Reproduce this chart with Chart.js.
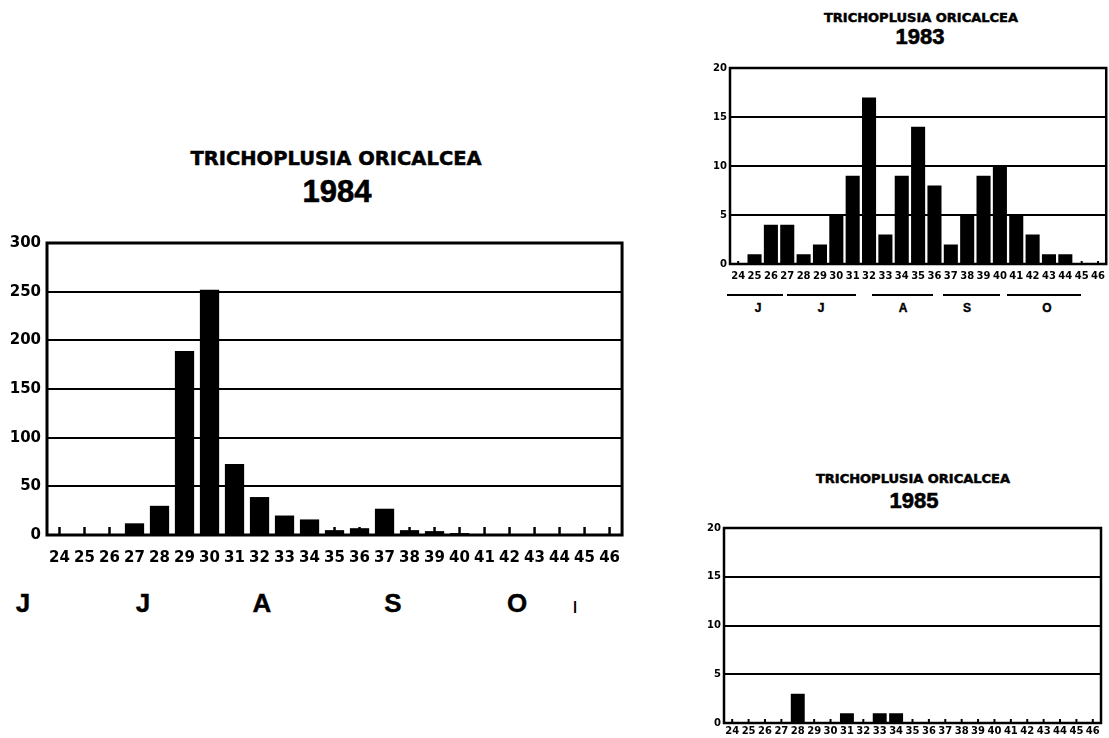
<!DOCTYPE html>
<html>
<head>
<meta charset="utf-8">
<script src="https://cdn.jsdelivr.net/npm/chart.js@4/dist/chart.umd.min.js"></script>
<style>
  html, body { margin: 0; padding: 0; background: #fff; }
  #page { position: relative; width: 1109px; height: 738px; overflow: hidden; background: #fff; }
  canvas { position: absolute; }
  .txt { position: absolute; transform: translate(-50%, -50%); line-height: 1; white-space: nowrap; color: #000; font-weight: bold; }
  .species { font-family: "DejaVu Sans", sans-serif; -webkit-text-stroke: 0.5px #000; }
  .year { font-family: "Liberation Sans", Arial, sans-serif; -webkit-text-stroke: 0.6px #000; }
  .month { font-family: "Liberation Sans", Arial, sans-serif; -webkit-text-stroke: 0.4px #000; }
  .rule { position: absolute; height: 2px; background: #000; }
</style>
</head>
<body>
<div id="page">
  <!-- 1984 (main panel) -->
  <div class="txt species" style="left:336px; top:159px; font-size:19.5px;">TRICHOPLUSIA ORICALCEA</div>
  <div class="txt year" style="left:337px; top:191px; font-size:31px;">1984</div>
  <canvas id="c1984" width="634" height="340" style="left:0px; top:228px;"></canvas>

  <!-- 1983 -->
  <div class="txt species" style="left:921px; top:17px; font-size:13px;">TRICHOPLUSIA ORICALCEA</div>
  <div class="txt year" style="left:920px; top:37px; font-size:22px;">1983</div>
  <canvas id="c1983" width="411" height="230" style="left:700px; top:55px;"></canvas>

  <!-- 1985 -->
  <div class="txt species" style="left:913px; top:478px; font-size:13px;">TRICHOPLUSIA ORICALCEA</div>
  <div class="txt year" style="left:914px; top:501px; font-size:22px;">1985</div>
  <canvas id="c1985" width="410" height="223" style="left:695px; top:515px;"></canvas>
</div>

<script>
// Trap week numbers (x categories)
const weeks = ['24','25','26','27','28','29','30','31','32','33','34','35',
               '36','37','38','39','40','41','42','43','44','45','46'];

// Weekly catches per season
const counts1984 = [0, 0, 0, 12, 30, 189, 252, 73, 39, 20, 16, 5, 7, 27, 5, 4, 2, 1, 1, 0, 1, 0, 0];
const counts1983 = [0, 1, 4, 4, 1, 2, 5, 9, 17, 3, 9, 14, 8, 2, 5, 9, 10, 5, 3, 1, 1, 0, 0];
const counts1985 = [0, 0, 0, 0, 3, 0, 0, 1, 0, 1, 1, 0, 0, 0, 0, 0, 0, 0, 0, 0, 0, 0, 0];

// Month initials under the week axis
const months = ['J', 'J', 'A', 'S', 'O'];

// y-axis ranges
const yMax1984 = 300, yStep1984 = 50;
const yMaxSmall = 20, yStepSmall = 5;

// Frame around the plot plus short base marks at every week
const framePlugin = {
  id: 'frame',
  afterDatasetsDraw(chart, args, opts) {
    const { ctx, chartArea: a } = chart;
    const x = chart.scales.x;
    ctx.save();
    ctx.strokeStyle = '#000';
    ctx.lineWidth = opts.markWidth;
    chart.data.labels.forEach((_, i) => {
      const px = x.getPixelForValue(i);
      ctx.beginPath();
      ctx.moveTo(px, a.bottom);
      ctx.lineTo(px, a.bottom - opts.markHeight);
      ctx.stroke();
    });
    ctx.lineWidth = opts.lineWidth;
    ctx.strokeRect(a.left, a.top, a.width, a.height);
    ctx.restore();
  }
};

function makeChart(id, values, cfg) {
  return new Chart(document.getElementById(id), {
    type: 'bar',
    data: {
      labels: weeks,
      datasets: [{
        data: values,
        backgroundColor: '#000',
        borderWidth: 0,
        barPercentage: cfg.barPct,
        categoryPercentage: 1
      }]
    },
    plugins: [framePlugin],
    options: {
      responsive: false,
      animation: false,
      events: [],
      layout: { padding: cfg.padding },
      plugins: {
        legend: { display: false },
        tooltip: { enabled: false },
        title: { display: false },
        frame: { lineWidth: cfg.frameWidth, markWidth: cfg.markWidth, markHeight: cfg.markHeight }
      },
      scales: {
        x: {
          offset: true,
          grid: { display: false, drawTicks: false },
          border: { display: false },
          afterFit: s => { s.height = cfg.xHeight; },
          ticks: {
            color: '#000',
            autoSkip: false,
            maxRotation: 0,
            minRotation: 0,
            padding: cfg.xPad,
            font: { family: 'DejaVu Sans', weight: 'bold', size: cfg.tickSize }
          }
        },
        y: {
          min: 0,
          max: cfg.yMax,
          grid: { color: '#000', lineWidth: cfg.gridWidth, drawTicks: false },
          border: { display: false },
          afterFit: s => { s.width = cfg.yWidth; },
          ticks: {
            stepSize: cfg.yStep,
            color: '#000',
            padding: cfg.yPad,
            font: { family: 'DejaVu Sans', weight: 'bold', size: cfg.tickSize }
          }
        }
      }
    }
  });
}

makeChart('c1984', counts1984, {
  barPct: 0.77, padding: { top: 10, right: 0, bottom: 0, left: 0 },
  xHeight: 33, yWidth: 47, xPad: 14, yPad: 6, tickSize: 15,
  yMax: yMax1984, yStep: yStep1984, gridWidth: 2, frameWidth: 3,
  markWidth: 2.5, markHeight: 8
});

makeChart('c1983', counts1983, {
  barPct: 0.86, padding: { top: 13, right: 0, bottom: 0, left: 0 },
  xHeight: 21, yWidth: 30, xPad: 6, yPad: 3, tickSize: 10,
  yMax: yMaxSmall, yStep: yStepSmall, gridWidth: 2, frameWidth: 2.5,
  markWidth: 2, markHeight: 3
});

makeChart('c1985', counts1985, {
  barPct: 0.85, padding: { top: 13, right: 4, bottom: 0, left: 0 },
  xHeight: 15, yWidth: 29, xPad: 2, yPad: 3, tickSize: 10,
  yMax: yMaxSmall, yStep: yStepSmall, gridWidth: 2, frameWidth: 2.5,
  markWidth: 2, markHeight: 4
});

// Month initials for the 1984 panel
const page = document.getElementById('page');
const mainMonthX = [23, 143, 262, 393, 517];
months.forEach((m, i) => {
  const d = document.createElement('div');
  d.className = 'txt month';
  d.style.cssText = `left:${mainMonthX[i]}px; top:603px; font-size:26px;`;
  d.textContent = m;
  page.appendChild(d);
});
const tail = document.createElement('div');
tail.className = 'txt month';
tail.style.cssText = 'left:575px; top:606px; font-size:22px; font-weight:normal; -webkit-text-stroke:0;';
tail.textContent = 'ı';
page.appendChild(tail);

// Month spans and initials for the 1983 panel
const spans1983 = [[727, 783], [787, 856], [872, 933], [943, 1000], [1007, 1081]];
const smallMonthX = [758, 821, 903, 967, 1047];
months.forEach((m, i) => {
  const r = document.createElement('div');
  r.className = 'rule';
  r.style.cssText = `left:${spans1983[i][0]}px; top:294px; width:${spans1983[i][1] - spans1983[i][0]}px;`;
  page.appendChild(r);
  const d = document.createElement('div');
  d.className = 'txt month';
  d.style.cssText = `left:${smallMonthX[i]}px; top:308px; font-size:12px;`;
  d.textContent = m;
  page.appendChild(d);
});
</script>
</body>
</html>
